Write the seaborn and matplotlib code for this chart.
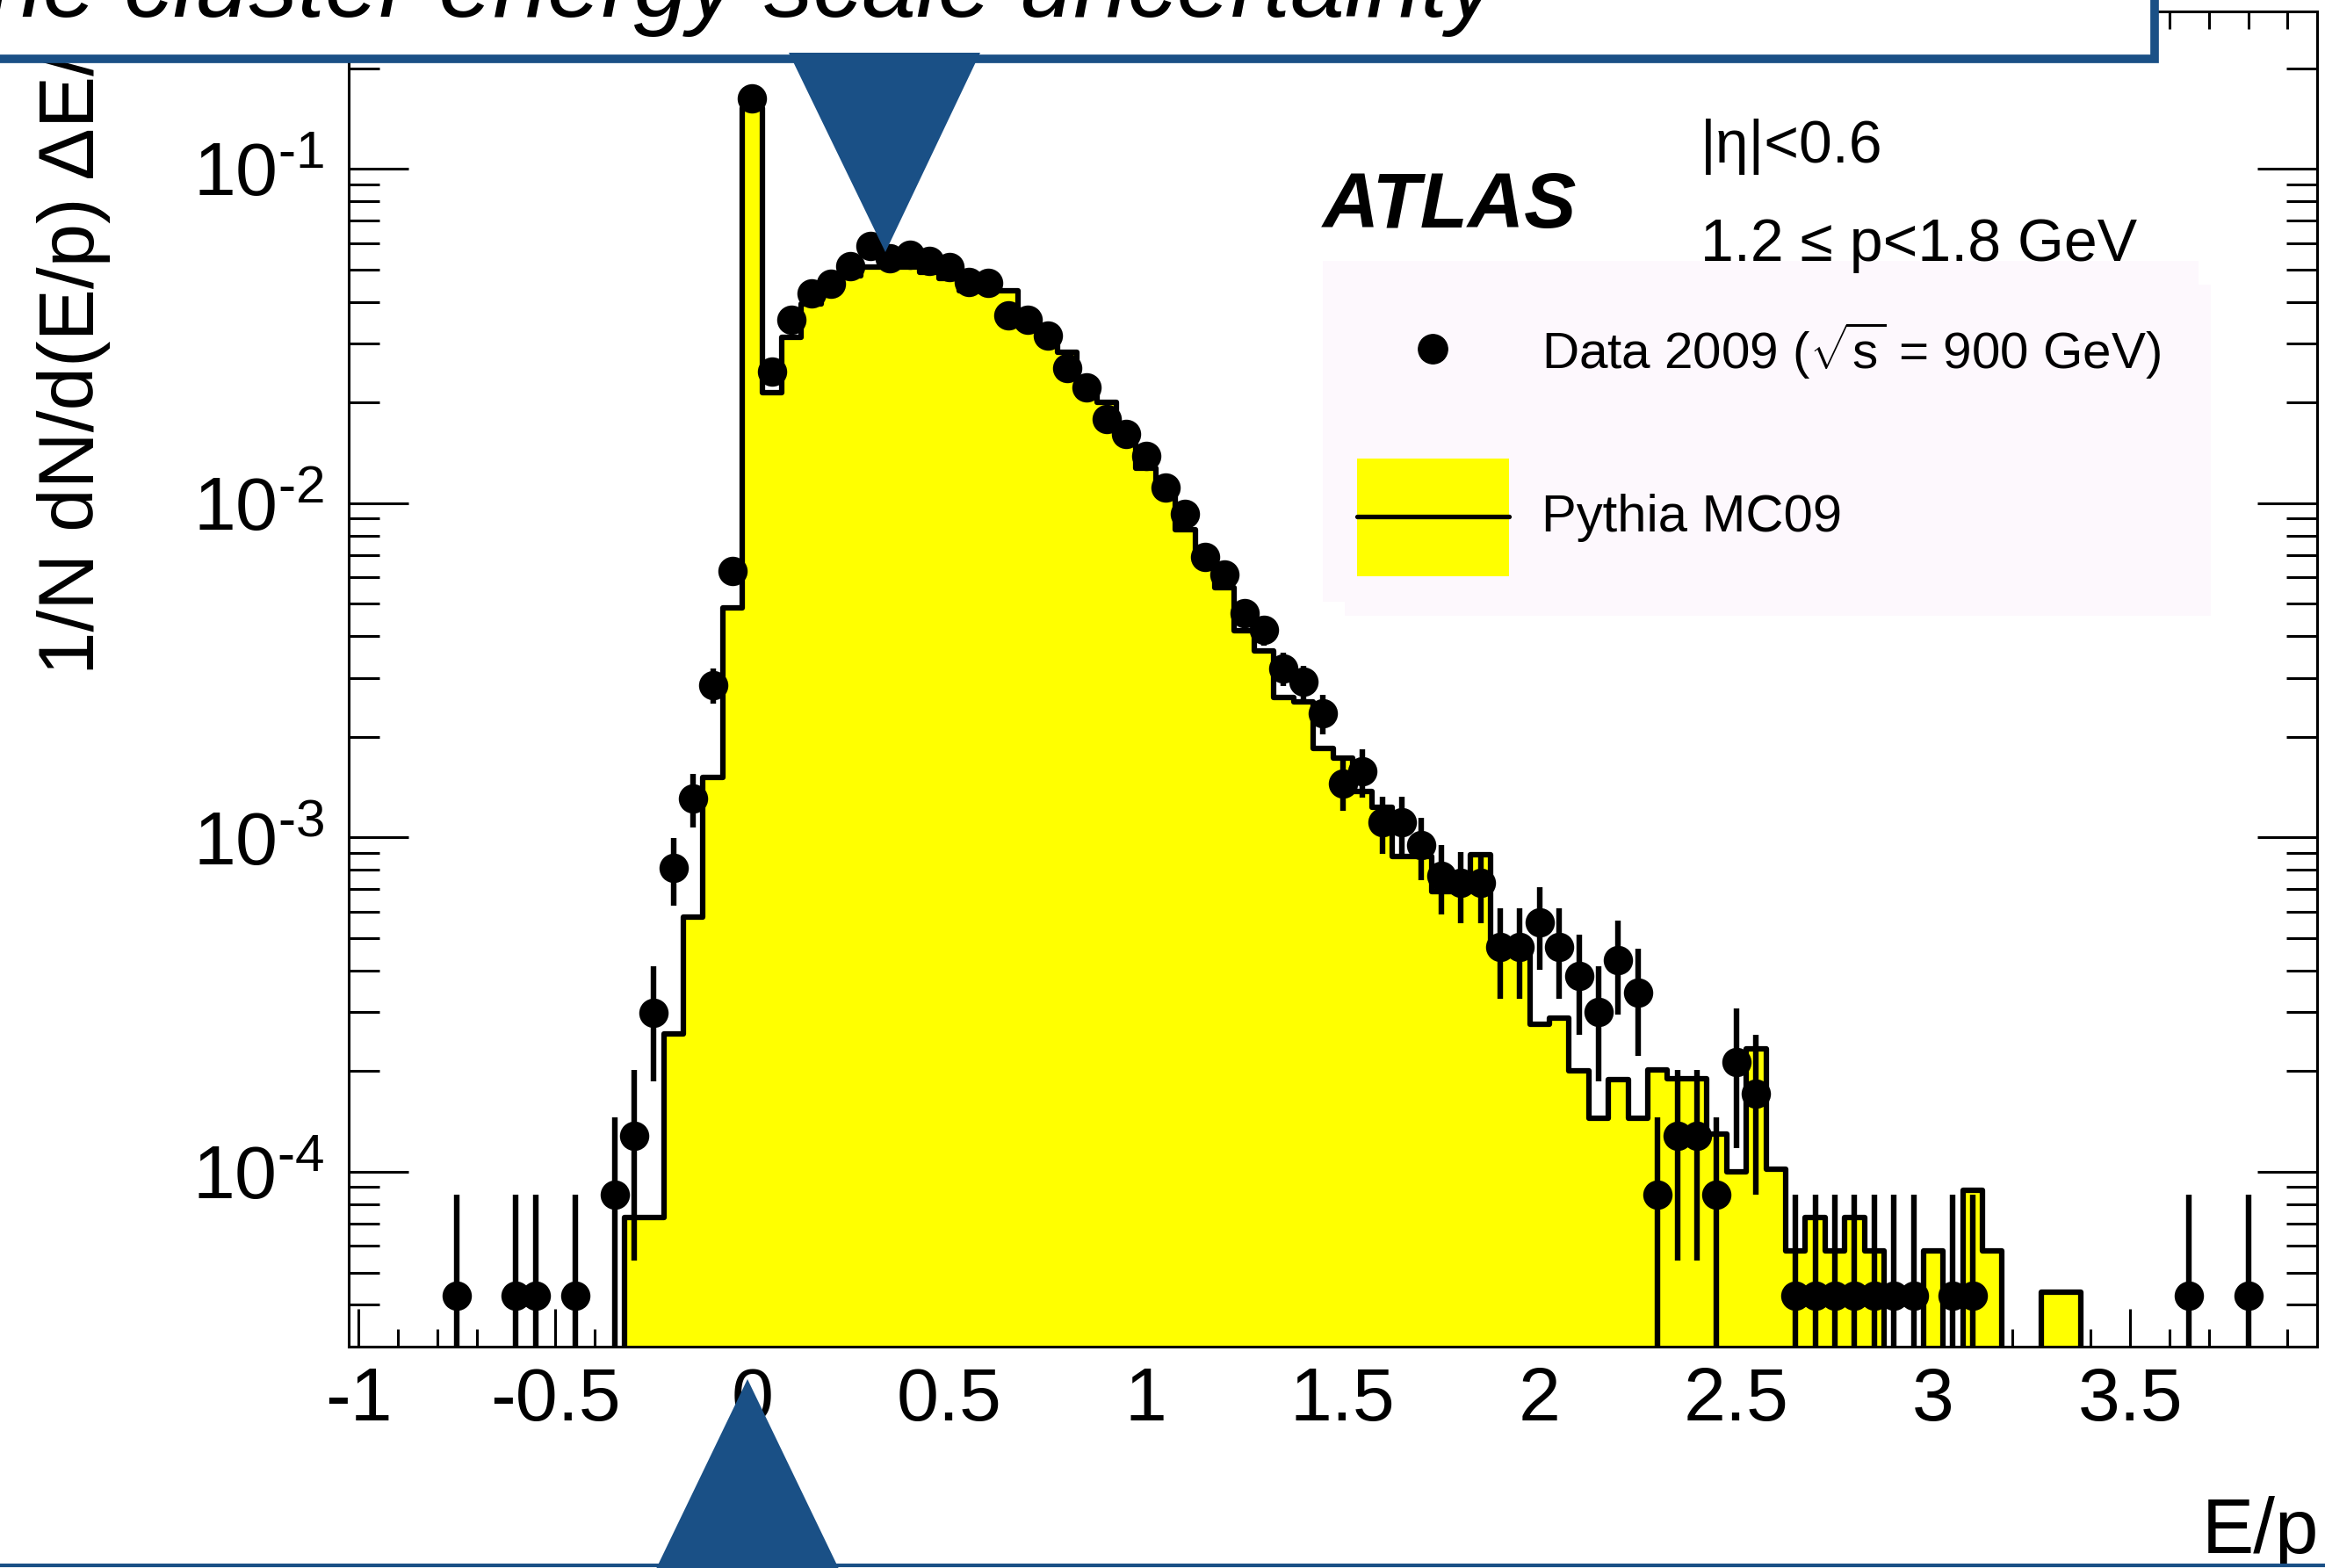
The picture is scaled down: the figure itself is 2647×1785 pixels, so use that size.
import numpy as np
import pandas as pd
import matplotlib
matplotlib.use("Agg")
import matplotlib.pyplot as plt
import seaborn as sns
from matplotlib.patches import Rectangle, Polygon
from matplotlib.lines import Line2D
from matplotlib.ticker import FixedLocator, LogLocator, NullFormatter

# ---------------- data ----------------
bin_edges = np.round(np.linspace(-1.025, 3.975, 101), 4)
bin_centers = np.round(0.5 * (bin_edges[:-1] + bin_edges[1:]), 4)

# Pythia MC09 : 1/N dN/d(E/p) * Delta(E/p) per bin (100 bins, -1.0 ... 3.95)
mc_values = [
    0, 0, 0, 0, 0, 0, 0, 0, 0, 0,                       # -1.00 .. -0.55
    0, 0, 0, 0, 7.3e-5, 7.3e-5, 2.59e-4, 5.78e-4, 1.51e-3, 4.87e-3,   # -0.50 .. -0.05
    0.152, 0.0214, 0.0314, 0.0394, 0.0440, 0.0480, 0.0510, 0.0520, 0.0510, 0.0490,  # 0.00 .. 0.45
    0.0470, 0.0433, 0.0433, 0.0433, 0.0354, 0.0314, 0.0283, 0.0215, 0.0201, 0.0156,  # 0.50 .. 0.95
    0.0127, 0.0107, 0.00836, 0.00675, 0.00558, 0.00415, 0.00362, 0.00262, 0.00255, 0.00185,  # 1.00 .. 1.45
    0.00173, 0.00137, 0.00123, 0.00088, 0.00088, 0.00069, 0.00069, 0.00089, 0.00047, 0.00047,  # 1.50 .. 1.95
    2.76e-4, 2.89e-4, 2.00e-4, 1.45e-4, 1.89e-4, 1.45e-4, 2.02e-4, 1.90e-4, 1.90e-4, 1.30e-4,  # 2.00 .. 2.45
    1.00e-4, 2.33e-4, 1.02e-4, 5.8e-5, 7.3e-5, 5.8e-5, 7.3e-5, 5.8e-5, 0, 0,  # 2.50 .. 2.95
    5.8e-5, 0, 8.8e-5, 5.8e-5, 0, 0, 4.37e-5, 4.37e-5, 0, 0,  # 3.00 .. 3.45
    0, 0, 0, 0, 0, 0, 0, 0, 0, 0,                       # 3.50 .. 3.95
]

# Data 2009 (sqrt(s) = 900 GeV), same binning, 0 = empty bin
data_values = [
    0, 0, 0, 0, 0, 4.26e-5, 0, 0, 4.26e-5, 4.26e-5,     # -1.00 .. -0.55
    0, 4.26e-5, 0, 8.53e-5, 1.28e-4, 2.99e-4, 8.11e-4, 1.31e-3, 2.86e-3, 6.28e-3,  # -0.50 .. -0.05
    0.1625, 0.0247, 0.0354, 0.0425, 0.0454, 0.0513, 0.0589, 0.0541, 0.0554, 0.0531,  # 0.00 .. 0.45
    0.0508, 0.0460, 0.0456, 0.0365, 0.0354, 0.0318, 0.0253, 0.0222, 0.0179, 0.0161,  # 0.50 .. 0.95
    0.01387, 0.01116, 0.00931, 0.00689, 0.00614, 0.00468, 0.00418, 0.00321, 0.00292, 0.00235,  # 1.00 .. 1.45
    0.00145, 0.00158, 0.00111, 0.00111, 0.000948, 0.000769, 0.000730, 0.000730, 0.000471, 0.000471,  # 1.50 .. 1.95
    0.000556, 0.000471, 0.000385, 0.000300, 0.000430, 0.000343, 8.53e-5, 1.28e-4, 1.28e-4, 8.53e-5,  # 2.00 .. 2.45
    2.13e-4, 1.71e-4, 0, 4.26e-5, 4.26e-5, 4.26e-5, 4.26e-5, 4.26e-5, 4.26e-5, 4.26e-5,  # 2.50 .. 2.95
    0, 4.26e-5, 4.26e-5, 0, 0, 0, 0, 0, 0, 0,           # 3.00 .. 3.45
    0, 0, 0, 4.26e-5, 0, 0, 4.26e-5, 0, 0, 0,           # 3.50 .. 3.95
]
one_event = 4.26e-5   # value of a single-entry bin (Poisson error scale)

x_major = [-1, -0.5, 0, 0.5, 1, 1.5, 2, 2.5, 3, 3.5]
x_major_labels = ["-1", "-0.5", "0", "0.5", "1", "1.5", "2", "2.5", "3", "3.5"]
y_major = [1e-4, 1e-3, 1e-2, 1e-1]
y_exponents = [4, 3, 2, 1]

# ---------------- style ----------------
W, H, DPI = 2647, 1785, 100
sns.set_style("ticks")
plt.rcParams["font.family"] = ["Liberation Sans", "DejaVu Sans"]
plt.rcParams["mathtext.fontset"] = "custom"
plt.rcParams["mathtext.rm"] = "Liberation Sans"
plt.rcParams["mathtext.it"] = "Liberation Sans:italic"
plt.rcParams["mathtext.bf"] = "Liberation Sans:bold"
for key in ["text.color", "axes.labelcolor", "xtick.color", "ytick.color",
            "axes.edgecolor"]:
    plt.rcParams[key] = "black"


def sup_label(p, hyphen=True):
    if hyphen:
        return r"$\mathregular{10^{\text{-}%d}}$" % p
    return r"$\mathregular{10^{-%d}}$" % p


try:
    from matplotlib.mathtext import MathTextParser
    MathTextParser("agg").parse(sup_label(1), dpi=100)
    y_major_labels = [sup_label(p) for p in y_exponents]
except Exception:
    y_major_labels = [sup_label(p, hyphen=False) for p in y_exponents]

BLUE = "#1A5086"
YELLOW = "#FFFF00"


def fx(px):
    return px / W


def fy(py):
    return 1.0 - py / H


fig = plt.figure(figsize=(W / DPI, H / DPI), dpi=DPI)
fig.patch.set_facecolor("white")
ax = fig.add_axes([fx(397), fy(1533), (2638 - 397) / W, (1533 - 13) / H])
ax.set_facecolor("white")

# MC histogram
mc_df = pd.DataFrame({"Ep": bin_centers, "w": mc_values})
sns.histplot(data=mc_df, x="Ep", weights="w", bins=list(bin_edges), element="step",
             fill=True, color=YELLOW, alpha=1.0, edgecolor="black",
             linewidth=4.5, ax=ax, zorder=2)

# Data points
dv = np.array(data_values, dtype=float)
mask = dv > 0
xd = bin_centers[mask]
yd = dv[mask]
err = np.sqrt(yd * one_event)
lo = np.where(yd - err <= 1e-7, yd - 1e-7, err)
ax.errorbar(xd, yd, yerr=[lo, err], fmt="none", ecolor="black",
            elinewidth=4.6, capsize=0, zorder=3)
sns.scatterplot(x=xd, y=yd, s=580, color="black", edgecolor="black",
                linewidth=0, ax=ax, zorder=4, legend=False)

ax.set_yscale("log")
ax.set_xlim(-1.025, 3.975)
ax.set_ylim(3.0e-5, 0.296)

ax.xaxis.set_major_locator(FixedLocator(x_major))
ax.set_xticklabels(x_major_labels)
ax.xaxis.set_minor_locator(FixedLocator(np.round(np.arange(-1.0, 3.96, 0.1), 2)))
ax.yaxis.set_major_locator(FixedLocator(y_major))
ax.set_yticklabels(y_major_labels)
ax.yaxis.set_minor_locator(LogLocator(base=10, subs=np.arange(2, 10)))
ax.yaxis.set_minor_formatter(NullFormatter())

ax.tick_params(axis="x", which="major", direction="in", length=31, width=2.2,
               top=True, labelsize=62, pad=16, colors="black")
ax.tick_params(axis="x", which="minor", direction="in", length=14.4, width=2.2,
               top=True, colors="black")
ax.tick_params(axis="y", which="major", direction="in", length=49, width=2.2,
               right=True, labelsize=62, pad=20, colors="black")
ax.tick_params(axis="y", which="minor", direction="in", length=25, width=2.2,
               right=True, colors="black")
for s in ax.spines.values():
    s.set_linewidth(2.2)
    s.set_color("black")

ax.set_xlabel("")
ax.set_ylabel("1/N dN/d(E/p) \u0394E/p", fontsize=64, color="black")
ax.yaxis.label.set_horizontalalignment("left")
ax.yaxis.set_label_coords((126 - 397) / 2241, (1533 - 768) / 1520)

# x label (ROOT style, right aligned under the axis end)
fig.text(fx(2640), fy(1768), "E/p", fontsize=64, ha="right", va="baseline")

# ATLAS label and cuts
fig.text(fx(1506), fy(259), "ATLAS", fontsize=64, fontweight="bold",
         fontstyle="italic", ha="left", va="baseline")
fig.text(fx(1936), fy(185), "|\u03b7|<0.6", fontsize=49, ha="left", va="baseline")
fig.text(fx(1936), fy(297), "1.2 \u2264 p<1.8 GeV", fontsize=49, ha="left",
         va="baseline")

# legend box
LEG_BG = "#FDF8FD"
for (x0, y0, x1, y1) in [(1506, 297, 2503, 685), (1531, 324, 2517, 701)]:
    fig.add_artist(Rectangle((fx(x0), fy(y1)), (x1 - x0) / W, (y1 - y0) / H,
                             transform=fig.transFigure, facecolor=LEG_BG,
                             edgecolor="none", zorder=2))
fig.add_artist(Line2D([fx(1631)], [fy(397)], marker="o", markersize=24,
                      color="black", linestyle="none",
                      transform=fig.transFigure, zorder=3))
fig.text(fx(1755), fy(420), r"Data 2009 ($\sqrt{\mathregular{s}}$ = 900 GeV)",
         fontsize=42, ha="left", va="baseline", zorder=3)
fig.add_artist(Rectangle((fx(1545), fy(656)), (1718 - 1545) / W, (656 - 522) / H,
                         transform=fig.transFigure, facecolor=YELLOW,
                         edgecolor="none", zorder=3))
fig.add_artist(Line2D([fx(1545), fx(1718)], [fy(588), fy(588)], color="black",
                      linewidth=3.8, transform=fig.transFigure, zorder=4))
fig.text(fx(1755), fy(605), "Pythia MC09", fontsize=43, ha="left",
         va="baseline", zorder=3)

# ---------------- slide overlays ----------------
# title box at the top
fig.add_artist(Rectangle((fx(-40), fy(67)), (2453 + 40) / W, (67 + 40) / H,
                         transform=fig.transFigure, facecolor="white",
                         edgecolor=BLUE, linewidth=7, zorder=5))
fig.text(fx(1704), fy(19), "The cluster energy scale uncertainty", fontsize=80,
         fontstyle="italic", ha="right", va="baseline", zorder=6, color="black")
# box border at the bottom
fig.add_artist(Rectangle((fx(-40), fy(1830)), (2700 + 40) / W, (1830 - 1782) / H,
                         transform=fig.transFigure, facecolor="white",
                         edgecolor=BLUE, linewidth=3, zorder=5))
# arrows (triangles)
fig.add_artist(Polygon([(fx(898), fy(60)), (fx(1116), fy(60)), (fx(1008), fy(287))],
                       closed=True, transform=fig.transFigure, facecolor=BLUE,
                       edgecolor="none", zorder=6))
fig.add_artist(Polygon([(fx(745), fy(1790)), (fx(957), fy(1790)), (fx(851), fy(1570))],
                       closed=True, transform=fig.transFigure, facecolor=BLUE,
                       edgecolor="none", zorder=6))

fig.savefig("out.png", dpi=DPI, facecolor="white")
